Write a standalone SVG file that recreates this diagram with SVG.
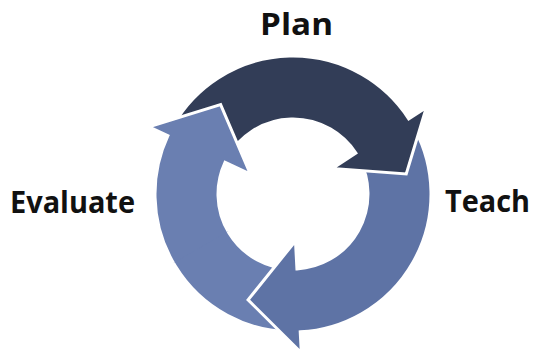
<svg xmlns="http://www.w3.org/2000/svg" xmlns:xlink="http://www.w3.org/1999/xlink" width="536" height="355" viewBox="0 0 536 355">
  <style>
    .arrow { stroke: #ffffff; stroke-width: 3; stroke-linejoin: miter; }
    .dark { fill: #323d57; }
    .teach { fill: #5e73a5; }
    .eval { fill: #6a7fb1; }
    .label { font-family: "Open Sans", "Liberation Sans", sans-serif; font-weight: bold; font-size: 30px; fill: #111111; }
  </style>
  <defs>
    <path id="arrow-eval" d="M -4.82,137.92 A 138 138 0 0 1 -125.07,-58.32 L -144.10,-67.20 L -72.37,-89.37 L -42.60,-19.86 L -67.97,-31.70 A 75 75 0 0 0 -2.62,74.95 Z"/>
    <clipPath id="eval-head-clip">
      <polygon points="0,0 -173.2,100 -200,0 -173.2,-100 -100,-173.2 -34.7,-197"/>
    </clipPath>
  </defs>
  <rect width="536" height="355" fill="#ffffff"/>
  <g id="connectors" transform="translate(293,194)">
    <use xlink:href="#arrow-eval" class="arrow eval"/>
    <path id="arrow-teach" class="arrow teach" d="M 121.85,-64.79 A 138 138 0 0 1 7.22,137.81 L 8.32,158.78 L -44.93,105.86 L 2.46,46.94 L 3.93,74.90 A 75 75 0 0 0 66.22,-35.21 Z"/>
    <path id="arrow-plan" class="arrow dark" d="M -119.51,-69.00 A 138 138 0 0 1 115.74,-75.16 L 133.35,-86.60 L 113.25,-19.97 L 39.42,-25.60 L 62.90,-40.85 A 75 75 0 0 0 -64.95,-37.50 Z"/>
    <use xlink:href="#arrow-eval" class="arrow eval" clip-path="url(#eval-head-clip)"/>
  </g>
  <g id="node-plan">
    <text class="label" x="260" y="35" textLength="73" lengthAdjust="spacingAndGlyphs">Plan</text>
  </g>
  <g id="node-teach">
    <text class="label" x="445" y="212" textLength="85" lengthAdjust="spacingAndGlyphs">Teach</text>
  </g>
  <g id="node-evaluate">
    <text class="label" x="10" y="213" textLength="125" lengthAdjust="spacingAndGlyphs">Evaluate</text>
  </g>
</svg>
